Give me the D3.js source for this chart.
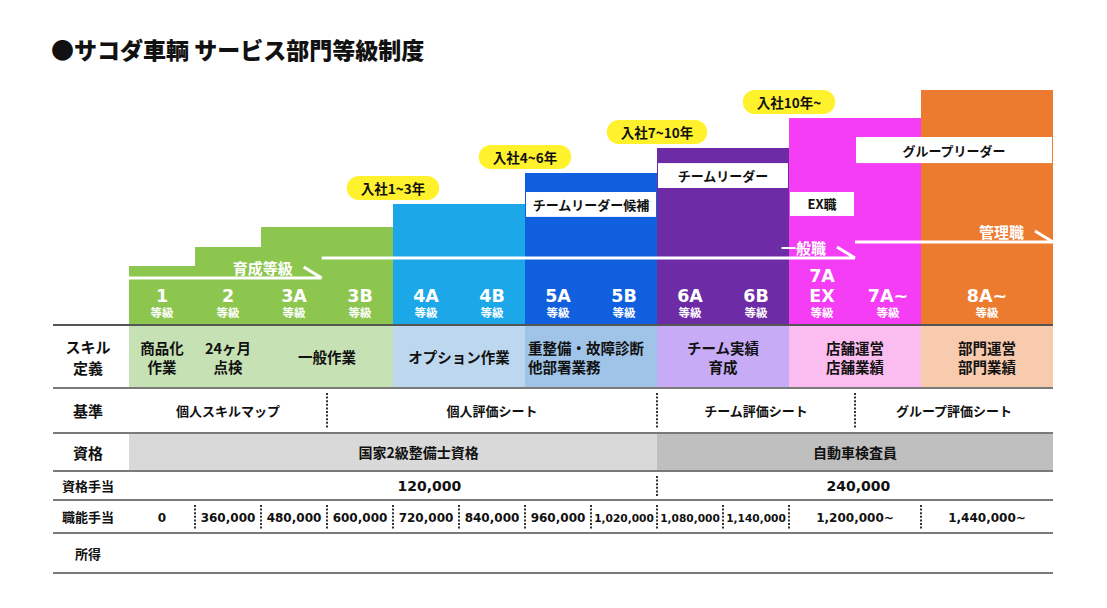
<!DOCTYPE html>
<html><head><meta charset="utf-8">
<script src="https://cdn.jsdelivr.net/npm/d3@7"></script>
<style>body{margin:0;background:#fff}</style>
</head><body><svg id="c" width="1107" height="608"></svg>
<script>
// ---------------- DATA ----------------
const title = "●サコダ車輌 サービス部門等級制度";

const grades     = ["1","2","3A","3B","4A","4B","5A","5B","6A","6B","7A\nEX","7A~","8A~"];
const gradeSpan  = [1,1,1,1,1,1,1,1,1,1,1,1,2];
const gradeTier  = [0,0,0,0,1,1,2,2,3,3,4,4,5];
const gradeLevel = [2.51,3.32,4.17,4.17,5.15,5.15,6.47,6.47,7.53,7.53,8.81,8.81,10];

const tenureLabels = ["入社1~3年","入社4~6年","入社7~10年","入社10年~"];
const tenureTier   = [1,2,3,4];

const roleNames  = ["チームリーダー候補","チームリーダー","EX職","グループリーダー"];
const roleFrom   = [6,8,10,11];
const roleTo     = [8,10,11,14];
const roleTop    = [5.66,6.89,5.66,8.0];
const roleBottom = [4.60,5.83,4.64,6.89];

const trackNames = ["育成等級","一般職","管理職"];
const trackFrom  = [0,2.92,11];
const trackTo    = [2.92,11,14];
const trackLevel = [2.0,2.85,3.53];

const rowLabels = ["スキル\n定義","基準","資格","資格手当","職能手当","所得"];

const skillTexts = ["商品化\n作業","24ヶ月\n点検","一般作業","オプション作業","重整備・故障診断\n他部署業務","チーム実績\n育成","店舗運営\n店舗業績","部門運営\n部門業績"];
const skillFrom  = [0,1,2,4,6,8,10,12];
const skillTo    = [1,2,4,6,8,10,12,14];

const criteriaTexts = ["個人スキルマップ","個人評価シート","チーム評価シート","グループ評価シート"];
const criteriaFrom  = [0,3,8,11];
const criteriaTo    = [3,8,11,14];

const qualTexts = ["国家2級整備士資格","自動車検査員"];
const qualFrom  = [0,8];
const qualTo    = [8,14];

const qualAllowance = ["120,000","240,000"];

const skillAllowance     = ["0","360,000","480,000","600,000","720,000","840,000","960,000","1,020,000","1,080,000","1,140,000","1,200,000~","1,440,000~"];
const skillAllowanceFrom = [0,1,2,3,4,5,6,7,8,9,10,12];
const skillAllowanceTo   = [1,2,3,4,5,6,7,8,9,10,12,14];

// ---------------- LAYOUT / STYLE ----------------
const tierColor = ["#8cc64f","#1ba7e8","#0f5fdf","#6d2ca6","#f43df4","#ec7b30"];
const tierLight = ["#c6e1b3","#bdd7ef","#9fc4e8","#c7abf6","#fbbdf0","#f8cbae"];
const qualFill  = ["#d9d9d9","#bfbfbf"];
const qualLabelSlot = [4.39, 11];
const qualAllowSlot = [4.55, 11.05];
const startAligned = new Set([4]);
const rowEdges = [325,388,433,471,500,533,573];
const rowFont  = [15,15,15,13,13,13];
const JP  = "'Noto Sans CJK JP','Noto Sans',sans-serif";
const NUM = "'DejaVu Sans',sans-serif";

const svg = d3.select("#c");
svg.append("rect").attr("width",1107).attr("height",608).attr("fill","#fff");
const x = d3.scaleLinear().domain([0,14]).range([129,1053]);
const y = d3.scaleLinear().domain([0,10]).range([325,90]);
const rx = v => Math.round(x(v));
const gStart = [0, ...d3.cumsum(gradeSpan)].slice(0, grades.length);

// Title
svg.append("text").attr("x",51).attr("y",59).text(title)
  .attr("font-family",JP).attr("font-weight",900).attr("font-size",23).attr("fill","#111");

// Bars
svg.append("g").selectAll("rect").data(grades).join("rect")
  .attr("x",(d,i)=>rx(gStart[i]))
  .attr("width",(d,i)=>rx(gStart[i]+gradeSpan[i])-rx(gStart[i]))
  .attr("y",(d,i)=>Math.round(y(gradeLevel[i])))
  .attr("height",(d,i)=>Math.round(y(0))-Math.round(y(gradeLevel[i])))
  .attr("fill",(d,i)=>tierColor[gradeTier[i]])
  .attr("shape-rendering","crispEdges");

// Role boxes
const roles = svg.append("g").selectAll("g").data(roleNames).join("g");
roles.append("rect")
  .attr("x",(d,i)=>rx(roleFrom[i])+1).attr("width",(d,i)=>rx(roleTo[i])-rx(roleFrom[i])-2)
  .attr("y",(d,i)=>y(roleTop[i])).attr("height",(d,i)=>y(roleBottom[i])-y(roleTop[i]))
  .attr("fill","#fff");
roles.append("text")
  .attr("x",(d,i)=>(x(roleFrom[i])+x(roleTo[i]))/2)
  .attr("y",(d,i)=>(y(roleTop[i])+y(roleBottom[i]))/2)
  .attr("dominant-baseline","central").attr("text-anchor","middle")
  .attr("font-family",JP).attr("font-weight",700).attr("font-size",13).attr("fill","#111")
  .text(d=>d);

// Tracks (white arrows)
const tracks = svg.append("g").selectAll("g").data(trackNames).join("g");
tracks.append("path")
  .attr("d",(d,i)=>{const yy=y(trackLevel[i]), x0=x(trackFrom[i]), x1=x(trackTo[i]);
     return `M${x0},${yy}H${x1}M${x1-18},${yy-11}L${x1},${yy}`;})
  .attr("stroke","#fff").attr("stroke-width",3).attr("fill","none");
tracks.append("text")
  .attr("x",(d,i)=>x(trackTo[i])-29).attr("y",(d,i)=>y(trackLevel[i])-11)
  .attr("dominant-baseline","central").attr("text-anchor","end")
  .attr("font-family",JP).attr("font-weight",700).attr("font-size",15).attr("fill","#fff")
  .text(d=>d);

// Grade labels
const gl = svg.append("g").selectAll("g").data(grades).join("g");
gl.each(function(d,i){
  const g = d3.select(this), cx = x(gStart[i]+gradeSpan[i]/2), lines = d.split("\n");
  lines.forEach((t,k)=>{
    g.append("text").attr("x",cx).attr("y",y(0)-23-(lines.length-1-k)*20)
     .attr("text-anchor","middle").attr("font-family",NUM).attr("font-weight",700)
     .attr("font-size",17.5).attr("fill","#fff").text(t);
  });
  g.append("text").attr("x",cx).attr("y",y(0)-8).attr("text-anchor","middle")
   .attr("font-family",JP).attr("font-weight",700).attr("font-size",11.5).attr("fill","#fff").text("等級");
});

// Tenure pills
const pills = svg.append("g").selectAll("g").data(tenureLabels).join("g");
pills.each(function(d,i){
  const gi = gradeTier.indexOf(tenureTier[i]);
  const cx = x(gStart[gi]), cy = y(gradeLevel[gi]) - 16;
  const g = d3.select(this);
  const r = g.append("rect").attr("fill","#fff22d");
  const t = g.append("text").attr("x",cx).attr("y",cy).attr("text-anchor","middle")
    .attr("dominant-baseline","central").attr("font-family",JP).attr("font-weight",700)
    .attr("font-size",13.5).attr("fill","#111").text(d);
  const w = t.node().getComputedTextLength() + 28;
  r.attr("x",cx-w/2).attr("y",cy-12).attr("width",w).attr("height",24).attr("rx",12);
});

// ---------------- TABLE ----------------
const T = svg.append("g");
const rowTop = i => rowEdges[i], rowBot = i => rowEdges[i+1], rowMid = i => (rowEdges[i]+rowEdges[i+1])/2;

// Skill row backgrounds
T.append("g").selectAll("rect").data(grades).join("rect")
  .attr("x",(d,i)=>rx(gStart[i])).attr("width",(d,i)=>rx(gStart[i]+gradeSpan[i])-rx(gStart[i]))
  .attr("y",rowTop(0)).attr("height",rowBot(0)-rowTop(0))
  .attr("fill",(d,i)=>tierLight[gradeTier[i]]).attr("shape-rendering","crispEdges");

// Qualification fills
T.append("g").selectAll("rect").data(qualTexts).join("rect")
  .attr("x",(d,i)=>rx(qualFrom[i])).attr("width",(d,i)=>rx(qualTo[i])-rx(qualFrom[i]))
  .attr("y",rowTop(2)).attr("height",rowBot(2)-rowTop(2))
  .attr("fill",(d,i)=>qualFill[i]).attr("shape-rendering","crispEdges");

function multiText(g, str, cx, cy, size, lh, anchor, family){
  const lines = str.split("\n");
  lines.forEach((t,k)=>{
    g.append("text").attr("x",cx).attr("y",cy + (k-(lines.length-1)/2)*lh)
      .attr("dominant-baseline","central").attr("text-anchor",anchor)
      .attr("font-family",family).attr("font-weight",700).attr("font-size",size)
      .attr("fill","#111").text(t);
  });
}

// Row labels
rowLabels.forEach((d,i)=> multiText(T, d, 88, rowMid(i), rowFont[i], 21, "middle", JP));

// Skill texts
skillTexts.forEach((d,i)=>{
  if (startAligned.has(i)) multiText(T, d, x(skillFrom[i])+3, rowMid(0), 14.5, 19, "start", JP);
  else multiText(T, d, (x(skillFrom[i])+x(skillTo[i]))/2, rowMid(0), 14.5, 19, "middle", JP);
});

// Criteria
criteriaTexts.forEach((d,i)=> multiText(T, d, (x(criteriaFrom[i])+x(criteriaTo[i]))/2, rowMid(1), 13, 18, "middle", JP));

// Qualifications
qualTexts.forEach((d,i)=> multiText(T, d, x(qualLabelSlot[i]), rowMid(2), 14, 18, "middle", JP));

// Qualification allowance
qualAllowance.forEach((d,i)=> multiText(T, d, x(qualAllowSlot[i]), rowMid(3), 14, 18, "middle", NUM));

// Skill allowance
skillAllowance.forEach((d,i)=>{
  const w = x(skillAllowanceTo[i]) - x(skillAllowanceFrom[i]);
  const size = d.length < 9 ? 12 : (w > 100 ? 12 : 10.6);
  multiText(T, d, (x(skillAllowanceFrom[i])+x(skillAllowanceTo[i]))/2, rowMid(4)+1, size, 18, "middle", NUM);
});

// Dotted separators
function dotted(slots, row){
  T.append("g").selectAll("line").data(slots).join("line")
   .attr("x1",d=>rx(d)).attr("x2",d=>rx(d))
   .attr("y1",rowTop(row)+5).attr("y2",rowBot(row)-4)
   .attr("stroke","#333").attr("stroke-width",2).attr("stroke-dasharray","2,1.6");
}
dotted(criteriaFrom.slice(1), 1);
dotted(qualFrom.slice(1), 3);
dotted(skillAllowanceFrom.slice(1), 4);

// Horizontal rules
T.append("g").selectAll("line").data(rowEdges).join("line")
  .attr("x1",53).attr("x2",1053).attr("y1",d=>d).attr("y2",d=>d)
  .attr("stroke",(d,i)=> i===0 ? "#555" : "#7a7a7a").attr("stroke-width",2);
</script></body></html>
